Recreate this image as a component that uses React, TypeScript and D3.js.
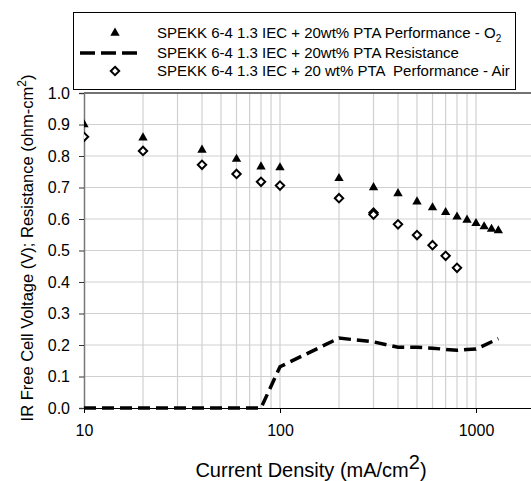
import React, { useRef, useEffect } from "react";
import * as d3 from "d3";

// O2 performance (triangles)
const o2Current = [10, 20, 40, 60, 80, 100, 200, 300, 400, 500, 600, 700, 800, 900, 1000, 1100, 1200, 1300];
const o2Voltage = [0.9, 0.858, 0.819, 0.79, 0.766, 0.763, 0.729, 0.7, 0.681, 0.655, 0.636, 0.621, 0.607, 0.597, 0.586, 0.576, 0.568, 0.563];

// Air performance (diamonds)
const airCurrent = [10, 20, 40, 60, 80, 100, 200, 300, 300, 400, 500, 600, 700, 800];
const airVoltage = [0.861, 0.816, 0.772, 0.743, 0.718, 0.706, 0.666, 0.62, 0.614, 0.583, 0.549, 0.517, 0.483, 0.445];

// Resistance (dashed line)
const resCurrent = [10, 20, 40, 60, 80, 100, 200, 300, 400, 500, 600, 700, 800, 900, 1000, 1300];
const resValue = [0, 0, 0, 0, 0, 0.131, 0.222, 0.21, 0.193, 0.193, 0.19, 0.186, 0.183, 0.186, 0.187, 0.22];

const xTicks = [10, 100, 1000];
const xGrid = [20, 30, 40, 50, 60, 70, 80, 90, 100, 200, 300, 400, 500, 600, 700, 800, 900, 1000];
const yTicks = [0, 0.1, 0.2, 0.3, 0.4, 0.5, 0.6, 0.7, 0.8, 0.9, 1.0];

const legendLabels = [
  "SPEKK 6-4 1.3 IEC + 20wt% PTA Performance - O",
  "SPEKK 6-4 1.3 IEC + 20wt% PTA Resistance",
  "SPEKK 6-4 1.3 IEC + 20 wt% PTA  Performance - Air",
];

const W = 531;
const H = 481;
const FONT = "'Liberation Sans', Arial, sans-serif";

const diamond = (r: number) => `M0,${-r}L${r},0L0,${r}L${-r},0Z`;

const App = () => {
  const ref = useRef<SVGSVGElement>(null);

  useEffect(() => {
    const svg = d3.select(ref.current);
    svg.selectAll("*").remove();

    const left = 84, top = 93, bottom = 408;
    const x = d3.scaleLog().domain([10, 10000]).range([left, left + 196 * 3]);
    const y = d3.scaleLinear().domain([0, 1]).range([bottom, top]);

    svg.append("rect").attr("width", W).attr("height", H).attr("fill", "#fff");

    svg.append("defs").append("clipPath").attr("id", "plotclip")
      .append("rect").attr("x", left).attr("y", top - 6).attr("width", W - left).attr("height", bottom - top + 12);

    const plot = svg.append("g");

    // grid
    plot.selectAll(".hg").data(yTicks.slice(1)).enter().append("line")
      .attr("x1", left).attr("x2", W).attr("y1", (d) => y(d)).attr("y2", (d) => y(d))
      .attr("stroke", "#d0d0d0").attr("stroke-width", 1.2);
    plot.selectAll(".vg").data(xGrid).enter().append("line")
      .attr("x1", (d) => x(d)).attr("x2", (d) => x(d)).attr("y1", top).attr("y2", bottom)
      .attr("stroke", "#d0d0d0").attr("stroke-width", 1.2);

    // top border
    plot.append("line").attr("x1", left).attr("x2", W).attr("y1", top).attr("y2", top)
      .attr("stroke", "#000").attr("stroke-width", 1.2);

    // axes
    const yAxis = svg.append("g").attr("transform", `translate(${left},0)`)
      .call(d3.axisLeft(y).tickValues(yTicks).tickSize(5).tickFormat(d3.format(".1f")));
    yAxis.select(".domain").attr("stroke", "#777").attr("stroke-width", 1.5);
    yAxis.selectAll(".tick line").attr("stroke", "#333");
    yAxis.selectAll("text").attr("font-family", FONT).attr("font-size", 16).attr("fill", "#000").attr("x", -14);

    const xAxis = svg.append("g").attr("transform", `translate(0,${bottom})`)
      .call(d3.axisBottom(x).tickValues(xTicks).tickSize(5).tickFormat(d3.format("d")));
    xAxis.select(".domain").attr("d", `M${left},0.5H${W}`).attr("stroke", "#000").attr("stroke-width", 1.2);
    xAxis.selectAll("text").attr("font-family", FONT).attr("font-size", 16).attr("fill", "#000").attr("y", 17);

    const data = svg.append("g").attr("clip-path", "url(#plotclip)");

    // resistance line
    const line = d3.line<number>()
      .x((d, i) => x(resCurrent[i]))
      .y((d) => y(d));
    data.append("path").attr("d", line(resValue)).attr("fill", "none")
      .attr("stroke", "#000").attr("stroke-width", 3.5).attr("stroke-dasharray", "12,6");

    // O2 triangles
    const tri = d3.symbol().type(d3.symbolTriangle).size(38);
    data.selectAll(".o2").data(o2Voltage).enter().append("path")
      .attr("d", tri)
      .attr("transform", (d, i) => `translate(${x(o2Current[i])},${y(d)})`)
      .attr("fill", "#000");

    // air diamonds
    data.selectAll(".air").data(airVoltage).enter().append("path")
      .attr("d", diamond(4.2))
      .attr("transform", (d, i) => `translate(${x(airCurrent[i])},${y(d)})`)
      .attr("fill", "#fff").attr("stroke", "#000").attr("stroke-width", 2);

    // legend
    const lg = svg.append("g");
    lg.append("rect").attr("x", 73.5).attr("y", 12.5).attr("width", 442).attr("height", 77)
      .attr("fill", "#fff").attr("stroke", "#000").attr("stroke-width", 1);
    const rows = [33, 53, 71];
    lg.append("path").attr("d", tri).attr("transform", `translate(115,${rows[0]})`).attr("fill", "#000");
    lg.append("line").attr("x1", 80).attr("x2", 138).attr("y1", rows[1]).attr("y2", rows[1])
      .attr("stroke", "#000").attr("stroke-width", 3.5).attr("stroke-dasharray", "15,6");
    lg.append("path").attr("d", diamond(4.2)).attr("transform", `translate(115,${rows[2]})`)
      .attr("fill", "#fff").attr("stroke", "#000").attr("stroke-width", 2);
    legendLabels.forEach((t, i) => {
      const txt = lg.append("text").attr("x", 157).attr("y", rows[i]).attr("dy", "0.35em")
        .attr("font-family", FONT).attr("font-size", 15).style("white-space", "pre").text(t);
      if (i === 0) txt.append("tspan").attr("font-size", 10).attr("dy", 4).text("2");
    });

    // axis titles
    const yt = svg.append("text").attr("transform", `translate(33,248) rotate(-90)`)
      .attr("text-anchor", "middle").attr("font-family", FONT).attr("font-size", 16.5);
    yt.append("tspan").text("IR Free Cell Voltage (V); Resistance (ohm-cm");
    yt.append("tspan").attr("font-size", 12).attr("dy", -7).text("2");
    yt.append("tspan").attr("dy", 7).text(")");

    const xt = svg.append("text").attr("x", 311).attr("y", 477)
      .attr("text-anchor", "middle").attr("font-family", FONT).attr("font-size", 20);
    xt.append("tspan").text("Current Density (mA/cm");
    xt.append("tspan").attr("font-size", 20).attr("dy", -8).text("2");
    xt.append("tspan").attr("dy", 8).text(")");
  }, []);

  return (
    <svg
      ref={ref}
      width={W}
      height={H}
      style={{ position: "absolute", left: 0, top: 0 }}
    />
  );
};

export default App;
